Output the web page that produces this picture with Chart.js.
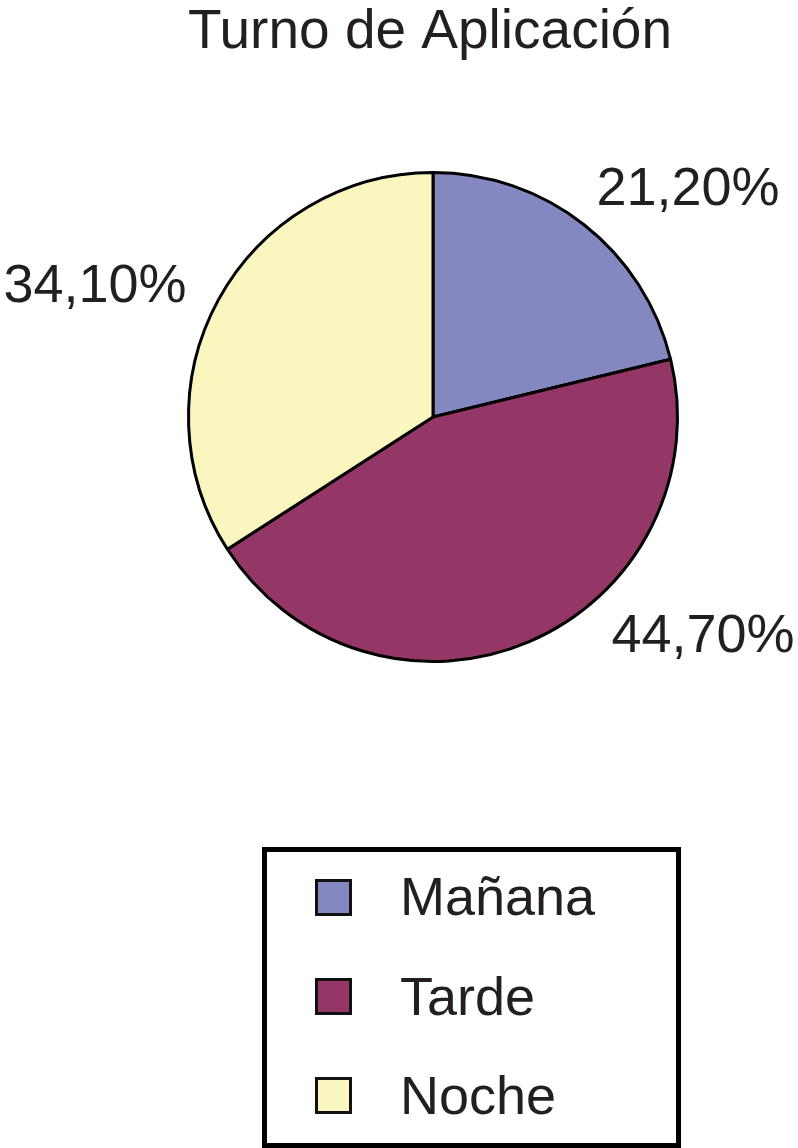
<!DOCTYPE html>
<html>
<head>
<meta charset="utf-8">
<script src="https://cdn.jsdelivr.net/npm/chart.js@4/dist/chart.umd.min.js"></script>
<style>
	html, body { margin: 0; padding: 0; background: #fff; }
	#wrap { width: 798px; height: 1148px; }
</style>
</head>
<body>
<div id="wrap"><canvas id="turno-chart" width="798" height="1148"></canvas></div>
<script>
var title = 'Turno de Aplicación'
var labels = ['Mañana', 'Tarde', 'Noche']
var values = [21.2, 44.7, 34.1]
var colors = ['#8488c0', '#943767', '#faf6c0']

var textColor = '#231f20'
var font = '"Liberation Sans", Arial, Helvetica, sans-serif'

function fmt(v) {
	return v.toFixed(2).replace('.', ',') + '%'
}

// percentage labels placed around the pie, offsets relative to the pie centre
var labelOffsets = [[255, -212], [270, 235], [-338, -115]]

var extras = {
	id: 'extras',
	afterDraw: function(chart) {
		var ctx = chart.ctx
		var arc = chart.getDatasetMeta(0).data[0]
		var cx = arc.x, cy = arc.y
		ctx.save()
		ctx.fillStyle = textColor
		ctx.font = '55px ' + font
		ctx.textAlign = 'center'
		ctx.textBaseline = 'alphabetic'
		ctx.fillText(title, 430, 48)

		ctx.font = '54px ' + font
		chart.data.datasets[0].data.forEach(function(v, i) {
			ctx.fillText(fmt(v), cx + labelOffsets[i][0], cy + labelOffsets[i][1])
		})

		// legend box
		ctx.strokeStyle = '#000'
		ctx.lineWidth = 5
		ctx.strokeRect(264.5, 849.5, 414, 296)
		ctx.textAlign = 'left'
		chart.data.labels.forEach(function(l, i) {
			var y = 880.5 + i * 99
			ctx.fillStyle = colors[i]
			ctx.fillRect(316.5, y, 34, 34)
			ctx.lineWidth = 3
			ctx.strokeStyle = '#111'
			ctx.strokeRect(316.5, y, 34, 34)
			ctx.fillStyle = textColor
			ctx.fillText(l, 400, 915 + i * 99.5)
		})
		ctx.restore()
	}
}

var ctx = document.getElementById('turno-chart').getContext('2d')
var myChart = new Chart(ctx, {
	type: 'pie',
	data: {
		labels: labels,
		datasets: [{
			data: values,
			backgroundColor: colors,
			borderColor: '#000',
			borderWidth: 3
		}]
	},
	options: {
		responsive: false,
		animation: false,
		layout: { padding: { left: 187, top: 171, right: 119, bottom: 485 } },
		plugins: {
			legend: { display: false },
			title: { display: false },
			tooltip: { enabled: false }
		}
	},
	plugins: [extras]
})
</script>
</body>
</html>
